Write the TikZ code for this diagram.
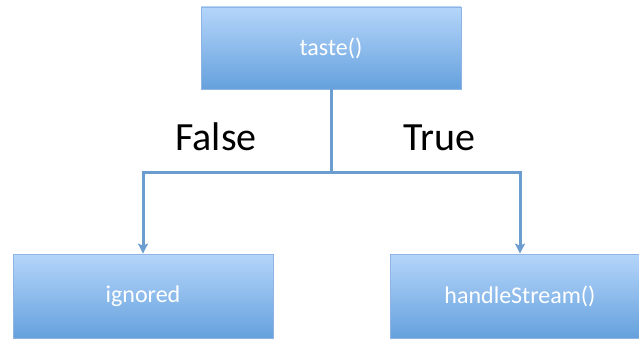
\documentclass[tikz,border=0pt]{standalone}
\usepackage{fontspec}
\setmainfont{Carlito}
\usetikzlibrary{arrows.meta,positioning}
\definecolor{BoxTop}{HTML}{B5D5FA}
\definecolor{BoxBottom}{HTML}{65A1DD}
\definecolor{BoxEdge}{HTML}{8DB4E2}
\definecolor{Link}{HTML}{6C9DD1}

\begin{document}
\begin{tikzpicture}[x=1pt,y=1pt,>={Stealth[length=10pt,width=10pt,inset=2pt]},
    callbox/.style={rectangle,draw=BoxEdge,line width=0.8pt,top color=BoxTop,bottom color=BoxBottom,
      minimum width=260pt,text=white,font=\fontsize{24}{26}\selectfont},
    link/.style={draw=Link,line width=3pt},
    branch/.style={font=\fontsize{40}{44}\selectfont,anchor=base}]
    \useasboundingbox (0,0) rectangle (639,-339);
    \node[callbox,minimum height=82pt] (taste) at (331,-48) {taste()};
    \node[callbox,minimum height=84pt] (ignored) at (143,-296) {ignored};
    \node[callbox,minimum height=84pt] (handle) at (520,-296) {handleStream()};
    % split point under the test
    \coordinate (split) at (331,-173);
    \path[link] (taste.south) -- (split);
    \path[link,->] (split) -| (ignored.north);
    \path[link,->] (split) -| (handle.north);
    \node[branch] (no) at (216,-150) {False};
    \node[branch] (yes) at (439,-150) {True};
  \end{tikzpicture}
\end{document}
